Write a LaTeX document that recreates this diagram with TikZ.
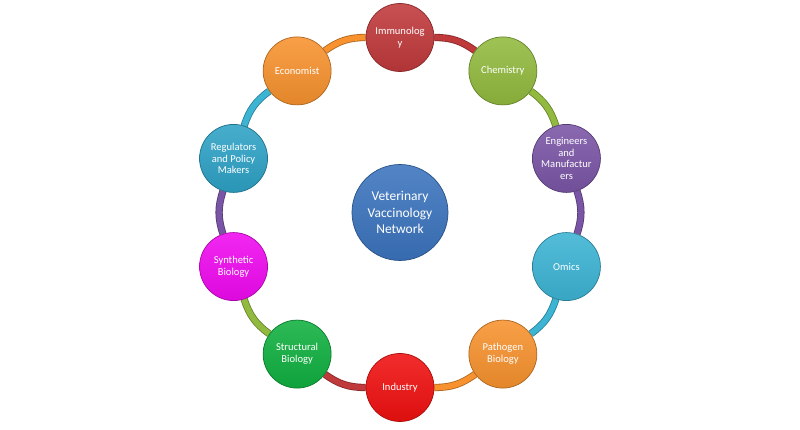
\documentclass[tikz,border=0pt]{standalone}
\usepackage{fontspec}
\setmainfont{Carlito}
\usetikzlibrary{backgrounds}
\definecolor{immred}{HTML}{C0393B}
\definecolor{chemgreen}{HTML}{92BA3E}
\definecolor{engpurple}{HTML}{7A55A6}
\definecolor{omaqua}{HTML}{3CB4D4}
\definecolor{pathorange}{HTML}{F7922E}
\definecolor{indred}{HTML}{F01010}
\definecolor{structgreen}{HTML}{10B040}
\definecolor{synmagenta}{HTML}{F00AF0}
\definecolor{regaqua}{HTML}{2EA2C6}
\definecolor{hubblue}{HTML}{3B74BE}

\begin{document}
\begin{tikzpicture}[x=0.03cm,y=0.03cm,
  ball/.style={circle,minimum size=2.04cm,inner sep=0pt,align=center,text=white,
    font=\fontsize{9}{10}\selectfont,draw=#1!70!black,line width=0.6pt,
    top color=#1!88!white,bottom color=#1!92!black},
  link/.style={line width=0.7pt,draw=#1!70!black,double=#1,double distance=4.8pt}]
\useasboundingbox (-400,-217.5) rectangle (400,212.5);

% hub
\node[ball=hubblue,minimum size=2.88cm,font=\fontsize{11.5}{14}\selectfont] (hub) at (0,0)
  {Veterinary\\Vaccinology\\Network};

% ring of disciplines
\node[ball=immred] (immunology) at (90:175) {Immunolog\\y};
\node[ball=chemgreen] (chemistry) at (54:175) {Chemistry};
\node[ball=engpurple] (engineers) at (18:175) {Engineers\\and\\Manufactur\\ers};
\node[ball=omaqua] (omics) at (-18:175) {Omics};
\node[ball=pathorange] (pathogen) at (-54:175) {Pathogen\\Biology};
\node[ball=indred] (industry) at (-90:175) {Industry};
\node[ball=structgreen] (structural) at (-126:175) {Structural\\Biology};
\node[ball=synmagenta] (synthetic) at (-162:175) {Synthetic\\Biology};
\node[ball=regaqua] (regulators) at (162:175) {Regulators\\and Policy\\Makers};
\node[ball=pathorange] (economist) at (126:175) {Economist};

\begin{scope}[on background layer]
\foreach \a/\b/\c in {immunology/chemistry/immred, chemistry/engineers/chemgreen,
    engineers/omics/engpurple, omics/pathogen/omaqua, pathogen/industry/pathorange,
    industry/structural/immred, structural/synthetic/chemgreen,
    synthetic/regulators/engpurple, regulators/economist/omaqua,
    economist/immunology/pathorange}
  \draw[link=\c] (\a) to[bend left=18] (\b);
\end{scope}
\end{tikzpicture}
\end{document}
